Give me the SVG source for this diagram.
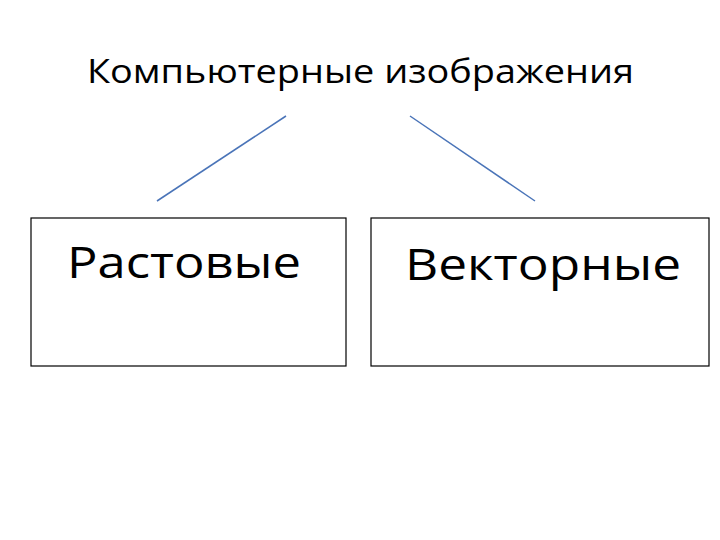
<svg xmlns="http://www.w3.org/2000/svg" width="720" height="540" viewBox="0 0 720 540">
<style>
text{font-family:"Open Sans","Liberation Sans",sans-serif;fill:#000}
.box{fill:#fff;stroke:#000;stroke-width:1.2}
.ln{stroke:#4a74b8;stroke-width:1.5;fill:none}
</style>
<rect width="720" height="540" fill="#fff"/>
<g id="title"><text x="87" y="83" font-size="32" textLength="547" lengthAdjust="spacingAndGlyphs">Компьютерные изображения</text></g>
<g id="connectors">
<line class="ln" x1="286" y1="116" x2="157" y2="201"/>
<line class="ln" x1="410" y1="116" x2="535" y2="201"/>
</g>
<g id="raster"><rect class="box" x="31" y="218" width="315" height="148"/>
<text x="67" y="278" font-size="44" textLength="234" lengthAdjust="spacingAndGlyphs">Растовые</text></g>
<g id="vector"><rect class="box" x="371" y="218" width="338" height="148"/>
<text x="405" y="280" font-size="44" textLength="276" lengthAdjust="spacingAndGlyphs">Векторные</text></g>
</svg>
